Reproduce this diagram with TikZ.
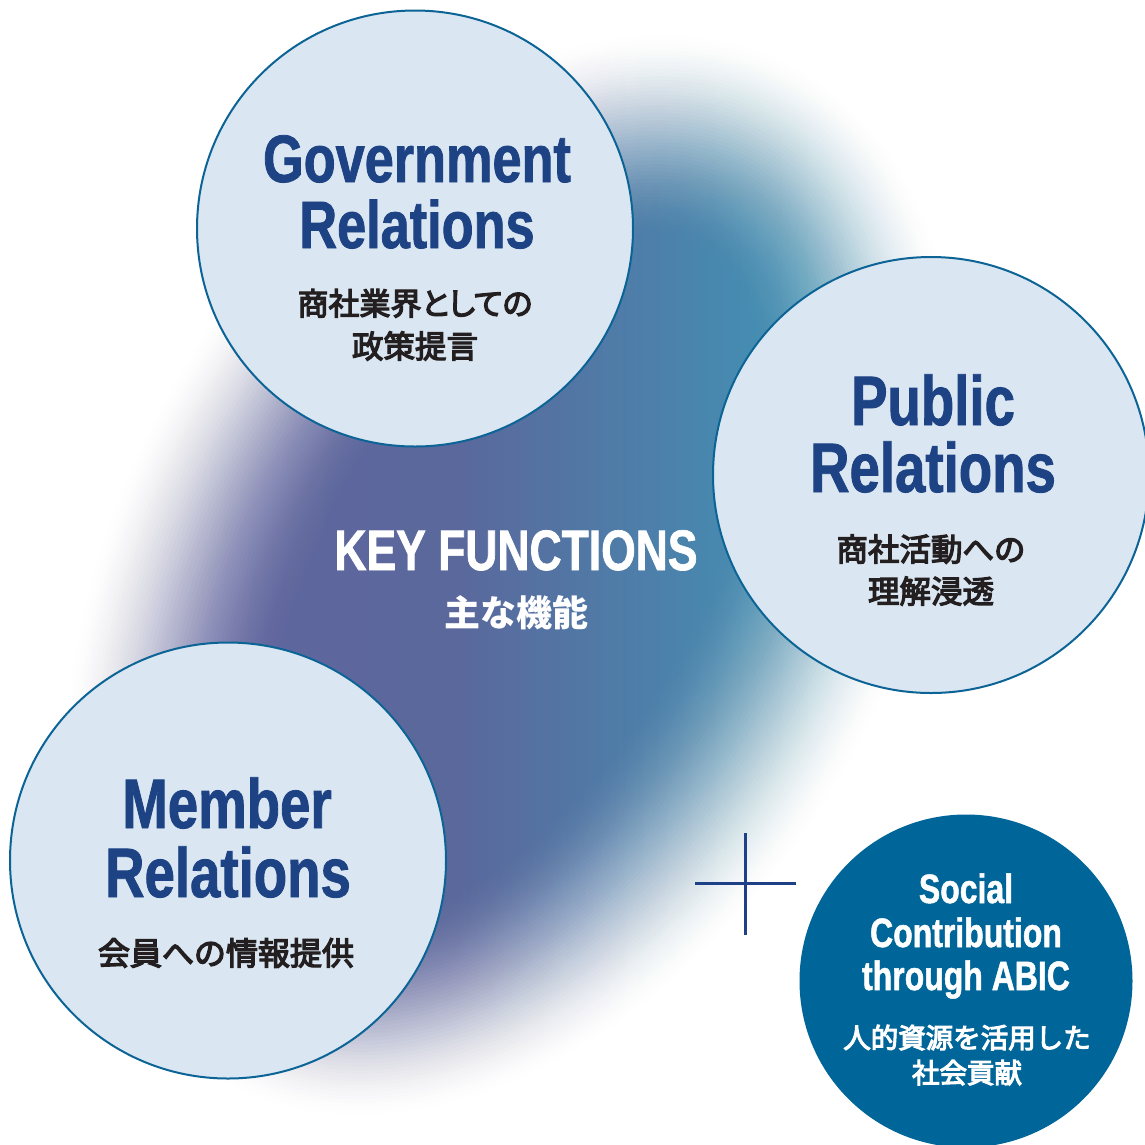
\documentclass[tikz,border=0pt]{standalone}
\usepackage{fontspec}
\setmainfont{Liberation Sans}
\newfontfamily\condf[FakeStretch=0.78,FakeBold=1.2]{Liberation Sans}
\newfontfamily\cjk{Noto Sans CJK JP}
\newfontfamily\cjkm[FakeBold=4]{Noto Sans CJK JP}
\newfontfamily\cjkp[FakeBold=4,RawFeature=+palt]{Noto Sans CJK JP}
\definecolor{bA}{RGB}{102,100,160}
\definecolor{bB}{RGB}{90,104,156}
\definecolor{bC}{RGB}{66,146,181}
\definecolor{bD}{RGB}{95,175,200}
\definecolor{cfill}{RGB}{218,230,241}
\definecolor{cline}{RGB}{12,100,150}
\definecolor{ttl}{RGB}{29,67,132}
\definecolor{jtx}{RGB}{35,31,32}
\definecolor{sfill}{RGB}{0,101,152}
\definecolor{plus}{RGB}{30,64,135}
\pgfdeclarehorizontalshading{blobsh}{100bp}{color(0bp)=(bA); color(25bp)=(bA); color(45bp)=(bB); color(60bp)=(bC); color(75bp)=(bD); color(100bp)=(bD)}
\tikzset{
  circ/.style={circle, draw=cline, line width=2pt, fill=cfill, inner sep=0pt, minimum size=436pt},
  scirc/.style={circle, fill=sfill, inner sep=0pt, minimum size=333pt},
  ttlA/.style={anchor=base, inner sep=0pt, text=ttl, font=\condf\bfseries\fontsize{67}{67}\selectfont},
  ttlB/.style={anchor=base, inner sep=0pt, text=ttl, font=\condf\bfseries\fontsize{70}{70}\selectfont},
  jp/.style={anchor=base, inner sep=0pt, text=jtx, font=\cjkm\fontsize{31.5}{31.5}\selectfont},
  jpp/.style={anchor=base, inner sep=0pt, text=jtx, font=\cjkp\fontsize{31}{31}\selectfont},
  keyt/.style={anchor=base, inner sep=0pt, text=white, font=\condf\bfseries\fontsize{57}{57}\selectfont},
  keyj/.style={anchor=base, inner sep=0pt, text=white, font=\cjk\bfseries\fontsize{36}{36}\selectfont},
  soct/.style={anchor=base, inner sep=0pt, text=white, font=\condf\bfseries\fontsize{41}{41}\selectfont},
  socj/.style={anchor=base, inner sep=0pt, text=white, font=\cjkm\fontsize{27.5}{27.5}\selectfont},
  plusline/.style={draw=plus, line width=3pt}
}
\begin{document}
\begin{tikzpicture}[x=1pt,y=-1pt]
\useasboundingbox (0,0) rectangle (1145,1144);
\fill[white] (0,0) rectangle (1145,1144);
% soft blob
\foreach \k in {1,...,60}{
  \pgfmathsetmacro\u{\k/60}
  \pgfmathsetmacro\up{(\k-1)/60}
  \pgfmathsetmacro\Tk{3*\u*\u-2*\u*\u*\u}
  \pgfmathsetmacro\Tp{3*\up*\up-2*\up*\up*\up}
  \pgfmathsetmacro\op{(\Tk-\Tp)/(1-\Tp)}
  \pgfmathsetmacro\dd{110-220*(\k-1)/59}
  \pgfmathsetmacro\ra{475+\dd}
  \pgfmathsetmacro\rb{280+\dd}
  \begin{scope}
    \clip[rotate around={60:(510,575)}] (510,575) ellipse [x radius=\ra, y radius=\rb];
    \shade[shading=blobsh, opacity=\op] (0,0) rectangle (1145,1144);
  \end{scope}
}
% circles
\node[circ] (gov) at (415,228.5) {};
\node[circ] (pub) at (931,475) {};
\node[circ] (mem) at (228,860.5) {};
\node[scirc] (soc) at (966,981) {};
% plus
\coordinate (pT) at (745,833);
\coordinate (pB) at (745,935);
\coordinate (pL) at (695,883);
\coordinate (pR) at (796,883);
\draw[plusline] (pT) -- (pB);
\draw[plusline] (pL) -- (pR);
% texts
\node[ttlA] (g1) at (417,182) {Government};
\node[ttlA] (g2) at (417,248) {Relations};
\node[jpp] (g3) at (415,315) {商社業界としての};
\node[jp] (g4) at (415,358) {政策提言};
\node[ttlB] (p1) at (933,425) {Public};
\node[ttlB] (p2) at (933,492) {Relations};
\node[jp] (p3) at (931,561) {商社活動への};
\node[jp] (p4) at (931,603) {理解浸透};
\node[ttlB] (m1) at (227,828) {Member};
\node[ttlB] (m2) at (228,897) {Relations};
\node[jp, font=\cjkm\fontsize{32}{32}\selectfont] (m3) at (226,965) {会員への情報提供};
\node[keyt] (k1) at (516,570) {KEY FUNCTIONS};
\node[keyj] (k2) at (516,626) {主な機能};
\node[soct] (s1) at (966,903) {Social};
\node[soct] (s2) at (966,947) {Contribution};
\node[soct] (s3) at (966,990) {through ABIC};
\node[socj] (s4) at (967,1048) {人的資源を活用した};
\node[socj] (s5) at (967,1083) {社会貢献};
\end{tikzpicture}
\end{document}
